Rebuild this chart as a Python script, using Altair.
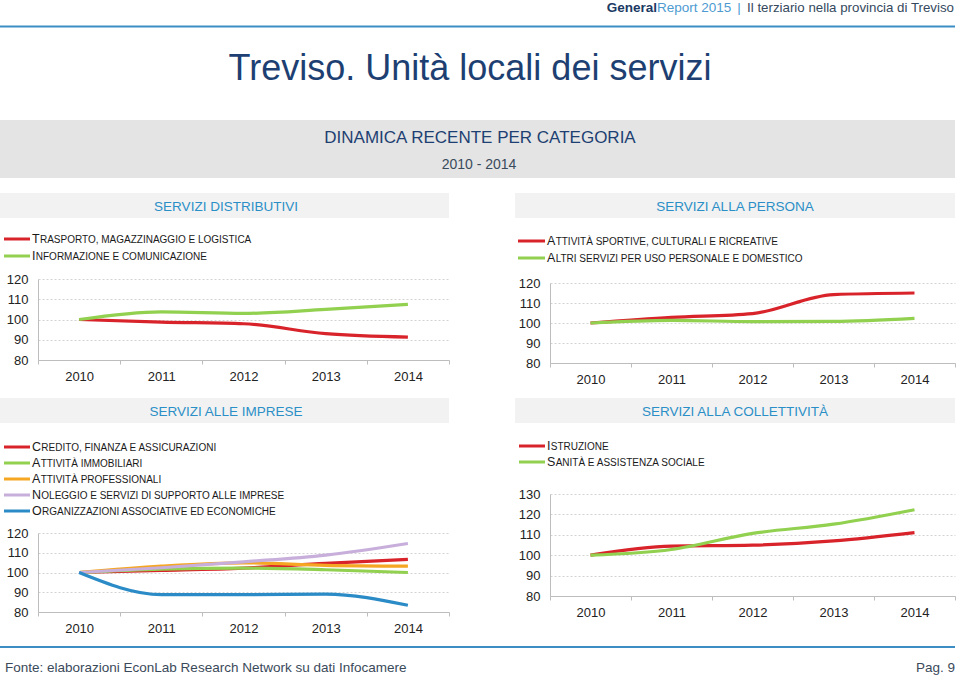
import altair as alt
import pandas as pd

FONT = "Liberation Sans"
W, H = 960, 681

years = ["2010", "2011", "2012", "2013", "2014"]

# --- Servizi distributivi
distr_names = ["Trasporto, magazzinaggio e logistica", "Informazione e comunicazione"]
distr_trasporto = [100, 98.7, 97.9, 93.0, 91.3]
distr_informazione = [100, 103.8, 103.0, 105.0, 107.5]

# --- Servizi alla persona
pers_names = ["Attività sportive, culturali e ricreative",
              "Altri servizi per uso personale e domestico"]
pers_sportive = [100, 102.8, 104.7, 114.2, 115.0]
pers_altri = [100, 101.3, 100.7, 100.8, 102.3]

# --- Servizi alle imprese
impr_names = ["Credito, finanza e assicurazioni", "Attività immobiliari",
              "Attività professionali", "Noleggio e servizi di supporto alle imprese",
              "Organizzazioni associative ed economiche"]
impr_credito = [100, 101.0, 102.2, 104.6, 106.6]
impr_immobiliari = [100, 101.7, 102.2, 101.4, 100.0]
impr_professionali = [100, 103.2, 104.9, 103.6, 103.2]
impr_noleggio = [100, 102.4, 105.4, 108.8, 114.7]
impr_organizzazioni = [100, 88.8, 88.8, 89.1, 83.4]

# --- Servizi alla collettività
coll_names = ["Istruzione", "Sanità e assistenza sociale"]
coll_istruzione = [100, 104.4, 104.9, 107.0, 111.1]
coll_sanita = [100, 102.8, 110.7, 115.2, 122.3]

RED, GREEN, ORANGE, PURPLE, BLUE = "#d9232a", "#92d050", "#f5a623", "#c7aedb", "#2a8bc6"
AX = "#bdbdbd"
NAVY = "#1d3f72"
HEAD = "#2b8fc7"

panels = [
    dict(title="SERVIZI DISTRIBUTIVI", names=distr_names,
         series=[distr_trasporto, distr_informazione], colors=[RED, GREEN],
         xr=[38, 449], yr=[360, 279], yd=[80, 120], yv=[80, 90, 100, 110, 120],
         box=[0, 449, 193, 218], tx=226, ty=211,
         leg_x=[4, 30, 32], leg_y=239, leg_step=17),
    dict(title="SERVIZI ALLA PERSONA", names=pers_names,
         series=[pers_sportive, pers_altri], colors=[RED, GREEN],
         xr=[550, 955], yr=[363, 283], yd=[80, 120], yv=[80, 90, 100, 110, 120],
         box=[515, 955, 193, 218], tx=735, ty=211,
         leg_x=[518, 545, 547], leg_y=241, leg_step=17),
    dict(title="SERVIZI ALLE IMPRESE", names=impr_names,
         series=[impr_credito, impr_immobiliari, impr_professionali,
                 impr_noleggio, impr_organizzazioni],
         colors=[RED, GREEN, ORANGE, PURPLE, BLUE],
         xr=[38, 449], yr=[612, 533], yd=[80, 120], yv=[80, 90, 100, 110, 120],
         box=[0, 449, 398, 423], tx=226, ty=416,
         leg_x=[4, 30, 32], leg_y=447, leg_step=16),
    dict(title="SERVIZI ALLA COLLETTIVITÀ", names=coll_names,
         series=[coll_istruzione, coll_sanita], colors=[RED, GREEN],
         xr=[550, 955], yr=[596, 494], yd=[80, 130], yv=[80, 90, 100, 110, 120, 130],
         box=[515, 955, 398, 423], tx=735, ty=416,
         leg_x=[519, 545, 547], leg_y=446, leg_step=16),
]

# approximate Arial advance widths (em) of capital initials
CAPW = {"T": 0.611, "I": 0.278, "A": 0.667, "C": 0.722, "N": 0.722, "O": 0.778, "S": 0.667}
CAP_SIZE, SC_SIZE = 12.5, 10

one = pd.DataFrame({"k": [0]})


def txt(text, x, y, size, color, align="center", weight="normal", baseline="alphabetic"):
    return alt.Chart(one).mark_text(
        text=text, align=align, baseline=baseline, fontSize=size, color=color,
        fontWeight=weight, font=FONT
    ).encode(x=alt.value(x), y=alt.value(y))


def rect(x0, x1, y0, y1, color):
    return alt.Chart(one).mark_rect(color=color).encode(
        x=alt.value(x0), x2=alt.value(x1), y=alt.value(y0), y2=alt.value(y1))


def hrule(x0, x1, y, color, width):
    return alt.Chart(one).mark_rule(color=color, strokeWidth=width).encode(
        x=alt.value(x0), x2=alt.value(x1), y=alt.value(y))


layers = []

# page header
layers.append(txt("General", 657, 12, 13.5, "#1b3a64", align="right", weight="bold"))
layers.append(txt("Report 2015", 657, 12, 13.5, "#4d9bd1", align="left"))
layers.append(txt("|", 739, 12, 13.5, "#4d9bd1"))
layers.append(txt("Il terziario nella provincia di Treviso", 954, 12, 13.3, "#34495e", align="right"))
layers.append(hrule(0, 955, 26.5, "#3c8dc3", 2))
layers.append(txt("Treviso. Unità locali dei servizi", 470, 80, 36, NAVY))
layers.append(rect(0, 955, 120, 178, "#e4e4e4"))
layers.append(txt("DINAMICA RECENTE PER CATEGORIA", 480, 143, 17, NAVY))
layers.append(txt("2010 - 2014", 479, 169, 14, "#3a4b5c"))

for p in panels:
    names, colors = p["names"], p["colors"]
    rows = []
    for name, vals in zip(names, p["series"]):
        for yr, v in zip(years, vals):
            rows.append({"series": name, "year": yr, "value": v})
    df = pd.DataFrame(rows)
    color = alt.Color("series:N", scale=alt.Scale(domain=names, range=colors), legend=None)

    b = p["box"]
    layers.append(rect(b[0], b[1], b[2], b[3], "#f2f2f2"))
    layers.append(txt(p["title"], p["tx"], p["ty"], 13.5, HEAD))

    line = alt.Chart(df).mark_line(strokeWidth=3.2, interpolate="monotone").encode(
        x=alt.X("year:O",
                scale=alt.Scale(type="band", domain=years, range=p["xr"],
                                paddingInner=0, paddingOuter=0),
                bandPosition=0.5,
                axis=alt.Axis(orient="bottom", offset=p["yr"][0] - H, tickBand="extent",
                              ticks=True, tickSize=4, tickColor=AX, domainColor=AX,
                              labelPadding=6, labelFontSize=13, labelColor="#222222",
                              labelAngle=0, title=None, grid=False, labelFont=FONT)),
        y=alt.Y("value:Q",
                scale=alt.Scale(domain=p["yd"], range=p["yr"], nice=False, zero=False),
                axis=alt.Axis(orient="left", offset=-p["xr"][0], values=p["yv"],
                              ticks=False, domainColor=AX, labelPadding=10,
                              labelFontSize=13, labelColor="#222222", labelFont=FONT,
                              grid=True, gridColor="#d3d3d3", gridDash=[2, 2],
                              title=None)),
        color=color,
        detail="series:N",
    )
    layers.append(line)

    # legend (small caps: large initial + smaller uppercase rest)
    n = len(names)
    lx0, lx1, tx0 = p["leg_x"]
    leg = pd.DataFrame({
        "series": names,
        "i": list(range(n)),
        "first": [s[0].upper() for s in names],
        "rest": [s[1:].upper() for s in names],
        "rx": [tx0 + CAPW.get(s[0].upper(), 0.667) * CAP_SIZE + 0.3 for s in names],
    })
    ys = alt.Scale(domain=[0, n - 1], range=[p["leg_y"], p["leg_y"] + p["leg_step"] * (n - 1)])
    yenc = alt.Y("i:Q", scale=ys, axis=None)
    layers.append(alt.Chart(leg).mark_rule(strokeWidth=3).encode(
        y=yenc, x=alt.value(lx0), x2=alt.value(lx1), color=color))
    layers.append(alt.Chart(leg).mark_text(
        align="left", baseline="alphabetic", dy=4, fontSize=CAP_SIZE, font=FONT,
        color="#1a1a1a").encode(y=yenc, x=alt.value(tx0), text="first:N"))
    layers.append(alt.Chart(leg).mark_text(
        align="left", baseline="alphabetic", dy=4, fontSize=SC_SIZE, font=FONT,
        color="#1a1a1a").encode(y=yenc, x=alt.X("rx:Q", scale=None, axis=None),
                                text="rest:N"))

# footer
layers.append(hrule(0, 955, 647, "#3c8dc3", 2))
layers.append(txt("Fonte: elaborazioni EconLab Research Network su dati Infocamere",
                  5, 672, 13.5, "#3a4a5a", align="left"))
layers.append(txt("Pag. 9", 955, 672, 13.5, "#3a4a5a", align="right"))

chart = alt.layer(*layers).resolve_scale(
    x="independent", y="independent", color="independent"
).properties(
    width=W, height=H, padding=0, autosize=alt.AutoSizeParams(type="none"),
    background="white"
).configure_view(stroke=None).configure_text(font=FONT)

chart.save("out.html", embed_options={"renderer": "svg", "actions": False})
